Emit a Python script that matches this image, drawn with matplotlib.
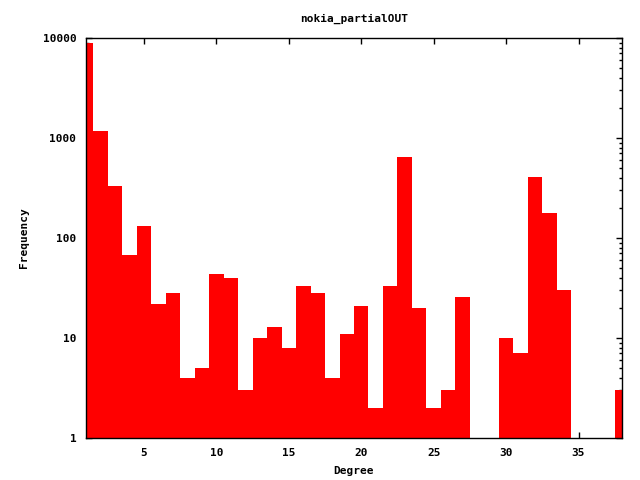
import numpy as np
import matplotlib
matplotlib.use("Agg")
import matplotlib.pyplot as plt
from matplotlib.ticker import FixedLocator, LogLocator, NullFormatter

degree = list(range(1, 39))
frequency = [8900, 1180, 330, 68, 132, 22, 28, 4, 5, 44,
             40, 3, 10, 13, 8, 33, 28, 4, 11, 21,
             2, 33, 650, 20, 2, 3, 26, 0, 0, 10,
             7, 410, 178, 30, 0, 0, 0, 3]
xticks = [5, 10, 15, 20, 25, 30, 35]
yticks = [1, 10, 100, 1000, 10000]

plt.rcParams['font.family'] = 'DejaVu Sans Mono'
plt.rcParams['font.weight'] = 'bold'
plt.rcParams['font.size'] = 8

fig = plt.figure(figsize=(6.4, 4.8), dpi=100)
ax = fig.add_axes([86/640, 42/480, 536/640, 400/480])
ax.set_axisbelow(True)

x = np.array(degree)
y = np.array(frequency, dtype=float)
mask = y > 0
ax.bar(x[mask], y[mask], width=1.0, color='#ff0000', linewidth=0, bottom=0)

ax.set_yscale('log')
ax.set_ylim(1, 10000)
ax.set_xlim(1, 38)

ax.xaxis.set_major_locator(FixedLocator(xticks))
ax.set_xticklabels([str(t) for t in xticks])
ax.yaxis.set_major_locator(FixedLocator(yticks))
ax.set_yticklabels([str(t) for t in yticks])
ax.yaxis.set_minor_locator(LogLocator(base=10, subs=np.arange(2, 10)))
ax.yaxis.set_minor_formatter(NullFormatter())

ax.tick_params(which='both', direction='in', top=True, right=True, width=1)
ax.tick_params(which='major', length=4.5, pad=7)
ax.tick_params(which='minor', length=2.5)
for s in ax.spines.values():
    s.set_linewidth(1)

ax.set_title('nokia_partialOUT', fontsize=8, fontweight='bold', pad=12)
ax.set_xlabel('Degree', fontsize=8, fontweight='bold', labelpad=6)
ax.set_ylabel('Frequency', fontsize=8, fontweight='bold', labelpad=10)

fig.savefig('out.png', dpi=100)
